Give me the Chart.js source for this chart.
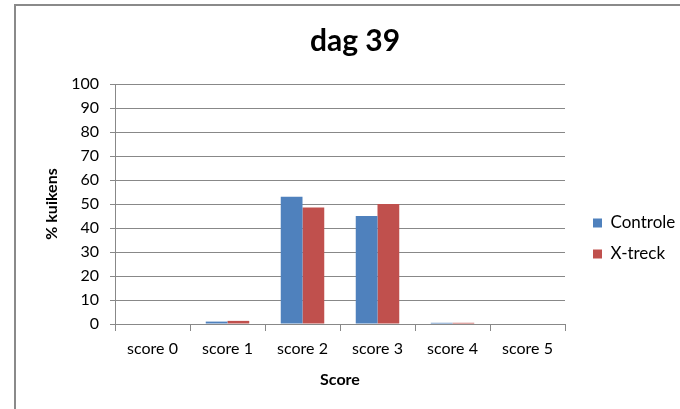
<!DOCTYPE html>
<html>
<head>
<meta charset="utf-8">
<script src="https://cdn.jsdelivr.net/npm/chart.js@4.4.0/dist/chart.umd.min.js"></script>
<style>
  html, body { margin: 0; padding: 0; background: #ffffff; }
  #wrap { width: 680px; height: 409px; }
</style>
</head>
<body>
<div id="wrap"><canvas id="dag39_chart" width="680" height="409"></canvas></div>
<script>
// Data
const score_labels = ["score 0", "score 1", "score 2", "score 3", "score 4", "score 5"];
const controle_values = [0, 1, 53, 45, 0.5, 0];
const xtreck_values = [0, 1.3, 48.5, 50, 0.5, 0];
const y_ticks = [0, 10, 20, 30, 40, 50, 60, 70, 80, 90, 100];

const blue = "#4F81BD";
const red = "#C0504D";
const grid_grey = "#888888";

Chart.defaults.font.family = 'Lato';
Chart.defaults.color = '#000000';

// grey frame at top and left of the picture
const framePlugin = {
	id: 'frame',
	beforeDraw(chart) {
		const ctx = chart.ctx;
		ctx.save();
		ctx.strokeStyle = '#8A8A8A';
		ctx.lineWidth = 2;
		ctx.beginPath();
		ctx.moveTo(15, 409);
		ctx.lineTo(15, 5);
		ctx.lineTo(680, 5);
		ctx.stroke();
		ctx.restore();
	}
};

// fixed legend width, then nudge legend and title like the original
const nudgePlugin = {
	id: 'nudge',
	afterInit(chart) {
		const lg = chart.legend;
		const fit = lg.fit;
		lg.fit = function() {
			fit.call(this);
			this.width = 115;
		};
	},
	afterLayout(chart) {
		const lg = chart.legend;
		lg.top += 31; lg.bottom += 31;
		lg.left += 14; lg.right += 14;
		const t = chart.titleBlock;
		t.left += 7; t.right += 7;
	}
};

const dag39_plot = document.getElementById("dag39_chart").getContext("2d");

var Dag39_Plot_Obj = new Chart(dag39_plot, {
	type: "bar",
	data: {
		labels: score_labels,
		datasets: [
			{
				label: "Controle",
				data: controle_values,
				backgroundColor: blue,
				borderWidth: 0,
			},
			{
				label: "X-treck",
				data: xtreck_values,
				backgroundColor: red,
				borderWidth: 0,
			}
		]
	},
	options: {
		responsive: false,
		animation: false,
		events: [], // No hover
		layout: {
			padding: { left: 16, right: 0, top: 6, bottom: 0 }
		},
		datasets: {
			bar: {
				categoryPercentage: 0.58,
				barPercentage: 1.0,
			}
		},
		plugins: {
			title: {
				display: true,
				text: 'dag 39',
				font: { size: 30, weight: 'bold' },
				padding: { top: 17, bottom: 25 },
			},
			legend: {
				display: true,
				position: 'right',
				labels: {
					boxWidth: 9,
					boxHeight: 9,
					padding: 14,
					font: { size: 17 },
				}
			},
			tooltip: { enabled: false },
		},
		scales: {
			x: {
				offset: true,
				afterFit: function(axis) { axis.height = 85; },
				grid: {
					offset: true,
					drawOnChartArea: false,
					tickLength: 7,
					color: grid_grey,
				},
				border: { color: grid_grey },
				ticks: {
					font: { size: 16 },
					padding: 8,
					maxRotation: 0,
				},
				title: {
					display: true,
					text: 'Score',
					font: { size: 16, weight: 'bold' },
					padding: { top: 0, bottom: 20 },
				}
			},
			y: {
				min: 0,
				max: 100,
				afterFit: function(axis) { axis.width = 99; },
				afterBuildTicks: function(axis) {
					axis.ticks = y_ticks.map(v => ({ value: v }));
				},
				grid: {
					color: grid_grey,
					tickLength: 5,
				},
				border: { color: grid_grey },
				ticks: {
					font: { size: 16 },
					padding: 11,
				},
				title: {
					display: true,
					text: '% kuikens',
					font: { size: 16, weight: 'bold' },
					padding: { top: 26, bottom: 0 },
				}
			}
		}
	},
	plugins: [framePlugin, nudgePlugin]
});
</script>
</body>
</html>
